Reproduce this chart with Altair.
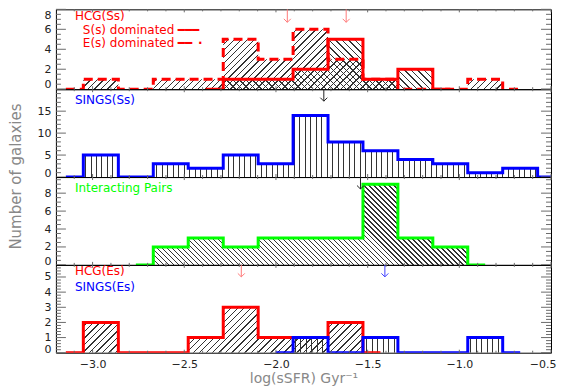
import altair as alt
import pandas as pd

# ---------------- data ----------------
# histogram bin centres, log(sSFR)
centers = [-3.146, -2.955, -2.764, -2.574, -2.383, -2.192, -2.002, -1.811,
           -1.621, -1.430, -1.240, -1.049, -0.859, -0.668, -0.478]

# HCG(Ss): E(s) dominated (dashed) and S(s) dominated (solid)
hcg_ss_e_first = 0
hcg_ss_e = [0, 1, 0, 1, 1, 5, 3, 6, 3, 1, 0, 0, 1, 0]
hcg_ss_s_first = 4
hcg_ss_s = [0, 1, 1, 2, 5, 1, 2, 0]
# SINGS(Ss)
sings_ss_first = 0
sings_ss = [0, 5, 0, 3, 2, 5, 3, 14, 8, 6, 4, 3, 1, 2, 0]
# Interacting pairs
pairs_first = 2
pairs = [0, 2, 3, 2, 3, 3, 3, 9, 3, 2, 0]
# HCG(Es) and SINGS(Es)
hcg_es_first = 0
hcg_es = [0, 2, 0, 0, 1, 3, 1, 1, 2, 0]
sings_es_first = 6
sings_es = [0, 1, 0, 1, 0, 0, 1, 0]

# arrows (median values)
arrows_hcg_ss = [-1.938, -1.617]
arrows_sings_ss = [-1.739]
arrows_pairs = [-1.539]
arrows_hcg_es = [-2.189]
arrows_sings_es = [-1.406]

# axis ticks
x_major = [-3.0, -2.5, -2.0, -1.5, -1.0, -0.5]
x_minor = [-3.1, -2.9, -2.8, -2.7, -2.6, -2.4, -2.3, -2.2, -2.1, -1.9, -1.8,
           -1.7, -1.6, -1.4, -1.3, -1.2, -1.1, -0.9, -0.8, -0.7, -0.6]

# ---------------- styling ----------------
X_DOMAIN = [-3.2, -0.5]
PLOT_W = 496
PX = PLOT_W / (X_DOMAIN[1] - X_DOMAIN[0])
FONT = "DejaVu Sans"
TICK_C = "#6a6a6a"
RED, BLUE, GREEN = "#ff0000", "#0000ff", "#00ff00"
PINK = "#ff7a7a"
xs = alt.Scale(domain=X_DOMAIN, nice=False, zero=False)


def hatch(kind, W, H, sx, ink="#333333"):
    clear = "rgba(255,255,255,0)"
    if kind == "|":
        L = W
        wx = 1.0
        geo = dict(x1=0, y1=0, x2=1, y2=0)
    else:
        L = W + H
        wx = 1.4
        k = (W + H) / (W * W + H * H)
        if kind == "/":
            geo = dict(x1=0, y1=0, x2=k * W, y2=k * H)
        else:
            geo = dict(x1=0, y1=1, x2=k * W, y2=1 - k * H)
    dt = sx / L
    wt = wx / L
    stops = [dict(offset=0, color=clear)]
    t = dt * 0.5
    while t + wt < 1:
        a, b = round(t, 5), round(t + wt, 5)
        stops += [dict(offset=a, color=clear), dict(offset=a, color=ink),
                  dict(offset=b, color=ink), dict(offset=b, color=clear)]
        t += dt
    stops.append(dict(offset=1, color=clear))
    return dict(gradient="linear", stops=stops, **geo)


def frange(step, stop, every):
    out = []
    i = 1
    while step * i < stop - 1e-9:
        if i % every:
            out.append(round(step * i, 3))
        i += 1
    return out


def text_layer(s, x, y, color, size=12, weight="normal"):
    return alt.Chart(pd.DataFrame({"t": [s]})).mark_text(
        align="left", baseline="alphabetic", font=FONT, fontSize=size,
        fontWeight=weight, color=color
    ).encode(text="t:N", x=alt.value(x), y=alt.value(y))


def panel(h, ymax, ylabels, ymajor, yminor, hists, arrows, texts,
          xaxis=None, ytitle=None, flush_offset=1.5):
    ys = alt.Scale(domain=[0, ymax], nice=False, zero=True)
    ax_kw = dict(values=ylabels, format="d", ticks=False, domain=False, grid=False,
                 labelFont=FONT, labelFontSize=11, labelColor="#222222",
                 labelPadding=5, labelFlush=True, labelFlushOffset=flush_offset)
    if ytitle:
        ax_kw.update(title=ytitle, titleY=87, titlePadding=13, titleFont=FONT,
                     titleFontSize=15, titleFontWeight="normal", titleColor="#888888")
    else:
        ax_kw.update(title=None)
    yax = alt.Axis(**ax_kw)
    xenc = alt.X("x:Q", scale=xs, axis=xaxis)
    yenc = alt.Y("y:Q", scale=ys, axis=yax)

    areas, lines = [], []
    for counts, first, kind, sx, color, dash in hists:
        df = pd.DataFrame({"x": centers[first:first + len(counts)], "y": counts})
        W = (centers[first + len(counts) - 1] - centers[first]) * PX
        H = max(counts) * h / ymax
        areas.append(alt.Chart(df).mark_area(
            interpolate="step", fill=hatch(kind, W, H, sx), opacity=1, clip=True
        ).encode(x=xenc, y=yenc))
        lk = dict(interpolate="step", color=color, strokeWidth=3, clip=True)
        if dash:
            lk["strokeDash"] = [9, 5]
        lines.append(alt.Chart(df).mark_line(**lk).encode(x=xenc, y=yenc))

    ticks = []
    for vals, ln in ((ymajor, 10), (yminor, 5)):
        d = pd.DataFrame({"y": vals})
        ticks.append(alt.Chart(d).mark_rule(color=TICK_C, strokeWidth=1).encode(
            y=yenc, x=alt.value(0), x2=alt.value(ln)))
        ticks.append(alt.Chart(d).mark_rule(color=TICK_C, strokeWidth=1).encode(
            y=yenc, x=alt.value(PLOT_W - ln), x2=alt.value(PLOT_W)))
    for vals, ln in ((x_major, 3), (x_minor, 2)):
        d = pd.DataFrame({"x": vals})
        ticks.append(alt.Chart(d).mark_rule(color=TICK_C, strokeWidth=1).encode(
            x=xenc, y=alt.value(h - ln), y2=alt.value(h)))
        ticks.append(alt.Chart(d).mark_rule(color=TICK_C, strokeWidth=1).encode(
            x=xenc, y=alt.value(0), y2=alt.value(ln)))

    arr = []
    for vals, color, L in arrows:
        d = pd.DataFrame({"x": vals})
        arr.append(alt.Chart(d).mark_rule(color=color, strokeWidth=1).encode(
            x=xenc, y=alt.value(0), y2=alt.value(L)))
        arr.append(alt.Chart(d).mark_point(
            shape="M-1,-1L0,0L1,-1", size=49, filled=False, color=color,
            strokeWidth=1, opacity=1).encode(x=xenc, y=alt.value(L)))

    txt = [text_layer(*t) for t in texts]
    return alt.layer(*(areas + lines + ticks + arr + txt)).properties(
        width=PLOT_W, height=h)


p1 = panel(
    80, 8, [0, 2, 4, 6, 8], [0, 2, 4, 6, 8], frange(0.5, 8, 4),
    [(hcg_ss_e, hcg_ss_e_first, "/", 6.5, RED, True),
     (hcg_ss_s, hcg_ss_s_first, "\\", 6.5, RED, False)],
    [(arrows_hcg_ss, PINK, 13)],
    [("HCG(Ss)", 19, 11, RED), ("S(s) dominated", 27, 24.5, RED),
     ("\u2501\u2501\u2501", 122, 24.5, RED, 12), ("E(s) dominated", 27, 38, RED),
     ("\u2501\u2501\u2002\u00b7", 122, 38, RED, 12, "bold")],
    flush_offset=0)

p2 = panel(
    88, 20, [0, 5, 10, 15], [0, 5, 10, 15, 20], frange(1, 20, 5),
    [(sings_ss, sings_ss_first, "|", 5.5, BLUE, False)],
    [(arrows_sings_ss, "#222222", 12)],
    [("SINGS(Ss)", 19, 14.5, BLUE)],
    ytitle="Number of galaxies")

p3 = panel(
    88, 9.8, [0, 2, 4, 6, 8], [0, 2, 4, 6, 8], frange(0.5, 9.8, 4),
    [(pairs, pairs_first, "\\", 5, GREEN, False)],
    [(arrows_pairs, "#222222", 12)],
    [("Interacting Pairs", 19, 14.8, GREEN)])

xaxis_bottom = alt.Axis(
    values=x_major, format=".1f", ticks=False, domain=False, grid=False,
    labelFont=FONT, labelFontSize=11, labelColor="#222222", labelPadding=6,
    labelFlush=True, labelFlushOffset=5,
    title="log(sSFR) Gyr\u207b\u00b9", titleFont=FONT, titleFontSize=14,
    titleFontWeight="normal", titleColor="#888888", titlePadding=2)

p4 = panel(
    88, 5.8, [0, 1, 2, 3, 4, 5], [0, 1, 2, 3, 4, 5], frange(0.2, 5.8, 5),
    [(hcg_es, hcg_es_first, "/", 6.5, RED, False),
     (sings_es, sings_es_first, "|", 5.5, BLUE, False)],
    [(arrows_hcg_es, PINK, 12), (arrows_sings_es, "#4040ff", 12)],
    [("HCG(Es)", 19, 10.5, RED), ("SINGS(Es)", 19, 26.5, BLUE)],
    xaxis=xaxis_bottom)

chart = alt.vconcat(p1, p2, p3, p4, spacing=0, bounds="flush").properties(
    padding=0
).configure_view(stroke="black", strokeWidth=1)

chart.save("out.html", embed_options={"renderer": "svg", "actions": False})
